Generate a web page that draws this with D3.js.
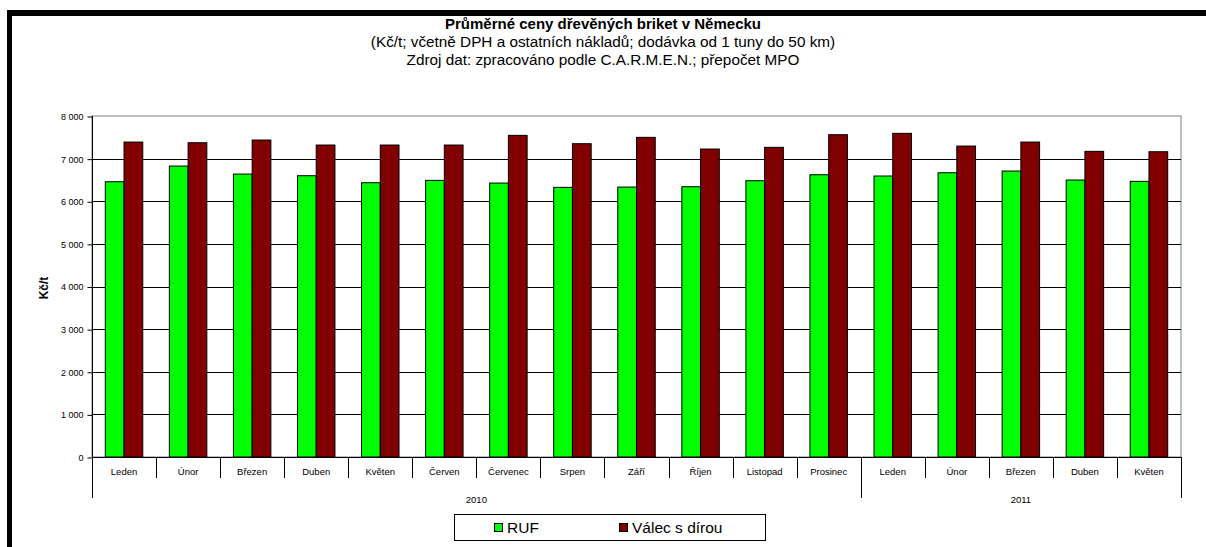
<!DOCTYPE html>
<html><head><meta charset="utf-8">
<script src="https://cdn.jsdelivr.net/npm/d3@7"></script>
<style>html,body{margin:0;padding:0;background:#fff;}svg{display:block;font-family:"Liberation Sans",Arial,sans-serif;}</style>
</head><body>
<svg id="c" width="1206" height="547"></svg>
<script>
const months = ["Leden","Únor","Březen","Duben","Květen","Červen","Červenec","Srpen","Září","Říjen","Listopad","Prosinec","Leden","Únor","Březen","Duben","Květen"];
const years = [{label:"2010", count:12},{label:"2011", count:5}];
const seriesNames = ["RUF","Válec s dírou"];
const ruf =   [6458,6826,6638,6599,6435,6490,6427,6326,6333,6341,6482,6622,6592,6669,6709,6498,6467];
const valec = [7389,7373,7436,7319,7319,7319,7546,7350,7499,7225,7265,7561,7593,7295,7389,7171,7162];
const yTicks = [0,1000,2000,3000,4000,5000,6000,7000,8000];
const colors = ["#00FF00","#800000"];

const svg = d3.select("#c");
const L=92, R=1181, T=116, B=457;

// frame
svg.append("rect").attr("x",0).attr("y",0).attr("width",1206).attr("height",547).attr("fill","#fff");
svg.append("line").attr("x1",7).attr("x2",1206).attr("y1",13).attr("y2",13).attr("stroke","#000").attr("stroke-width",6);
svg.append("line").attr("x1",9.5).attr("x2",9.5).attr("y1",10).attr("y2",547).attr("stroke","#000").attr("stroke-width",5);

// titles
svg.append("text").attr("x",603).attr("y",29).attr("text-anchor","middle").attr("font-size",15).attr("font-weight","bold").text("Průměrné ceny dřevěných briket v Německu");
svg.append("text").attr("x",603).attr("y",46.5).attr("text-anchor","middle").attr("font-size",15.3).text("(Kč/t; včetně DPH a ostatních nákladů; dodávka od 1 tuny do 50 km)");
svg.append("text").attr("x",603).attr("y",64.5).attr("text-anchor","middle").attr("font-size",15.3).text("Zdroj dat: zpracováno podle C.A.R.M.E.N.; přepočet MPO");

const y = d3.scaleLinear().domain([0,8000]).range([B,T]);
const idx = d3.range(months.length);
const p = 0.415;
const x0 = d3.scaleBand().domain(idx).range([L,R]).paddingInner(p).paddingOuter(p/2);
const x1 = d3.scaleBand().domain([0,1]).range([0,x0.bandwidth()]);

// plot area border
svg.append("rect").attr("x",L).attr("y",T).attr("width",R-L).attr("height",B-T).attr("fill","none").attr("stroke","#808080").attr("stroke-width",1);

// gridlines
svg.append("g").selectAll("line").data(yTicks.filter(d=>d>0 && d<8000)).join("line")
  .attr("x1",L).attr("x2",R).attr("y1",d=>Math.round(y(d))+0.5).attr("y2",d=>Math.round(y(d))+0.5)
  .attr("stroke","#000").attr("stroke-width",1);

// y axis
const loc = d3.formatLocale({decimal:",",thousands:" ",grouping:[3],currency:["",""]});
const yAxis = d3.axisLeft(y).tickValues(yTicks).tickFormat(loc.format(",d")).tickSize(5).tickPadding(4);
const gy = svg.append("g").attr("transform",`translate(${L+0.5},0.5)`).call(yAxis);
gy.select(".domain").remove();
gy.selectAll("text").attr("font-size",9).attr("font-family","Liberation Sans, Arial, sans-serif").attr("fill","#000");
gy.selectAll("line").attr("stroke","#000");
svg.append("line").attr("x1",L+0.5).attr("x2",L+0.5).attr("y1",T).attr("y2",498).attr("stroke","#000");

svg.append("text").attr("transform","translate(48,288) rotate(-90)").attr("text-anchor","middle").attr("font-size",12).attr("font-weight","bold").text("Kč/t");

// bars
const data = idx.map(i=>[ruf[i],valec[i]]);
const g = svg.append("g");
g.selectAll("g").data(data).join("g").attr("transform",(d,i)=>`translate(${x0(i)},0)`)
  .selectAll("rect").data(d=>d.map((v,k)=>({v,k}))).join("rect")
  .attr("x",d=>x1(d.k)).attr("width",x1.bandwidth())
  .attr("y",d=>y(d.v)).attr("height",d=>B-y(d.v))
  .attr("fill",d=>colors[d.k]).attr("stroke","#000").attr("stroke-width",1);

// x axis
svg.append("line").attr("x1",L).attr("x2",R).attr("y1",B+0.5).attr("y2",B+0.5).attr("stroke","#000");
const step = x0.step();
const bounds = d3.range(months.length+1).map(i=>L+i*step);
let yb = [0]; years.forEach(yy=>yb.push(yb[yb.length-1]+yy.count));
svg.append("g").selectAll("line").data(bounds.map((b,i)=>({b,i}))).join("line")
  .attr("x1",d=>Math.round(d.b)+0.5).attr("x2",d=>Math.round(d.b)+0.5)
  .attr("y1",B).attr("y2",d=>yb.includes(d.i)?498:478)
  .attr("stroke","#000").attr("stroke-width",1);
svg.append("g").selectAll("text").data(months).join("text")
  .attr("x",(d,i)=>x0(i)+x0.bandwidth()/2).attr("y",475).attr("text-anchor","middle").attr("font-size",9.5).text(d=>d);
svg.append("g").selectAll("text").data(years).join("text")
  .attr("x",(d,i)=>L+step*(yb[i]+d.count/2)).attr("y",503).attr("text-anchor","middle").attr("font-size",9.5).text(d=>d.label);

// legend
svg.append("rect").attr("x",454.5).attr("y",514.5).attr("width",311).attr("height",26).attr("fill","#fff").attr("stroke","#000");
const legX = [494,619];
const lg = svg.append("g").selectAll("g").data(seriesNames).join("g").attr("transform",(d,i)=>`translate(${legX[i]},0)`);
lg.append("rect").attr("x",0.5).attr("y",523.5).attr("width",8).attr("height",8).attr("fill",(d,i)=>colors[i]).attr("stroke","#000");
lg.append("text").attr("x",13).attr("y",533).attr("font-size",15.5).text(d=>d);
</script>
</body></html>
